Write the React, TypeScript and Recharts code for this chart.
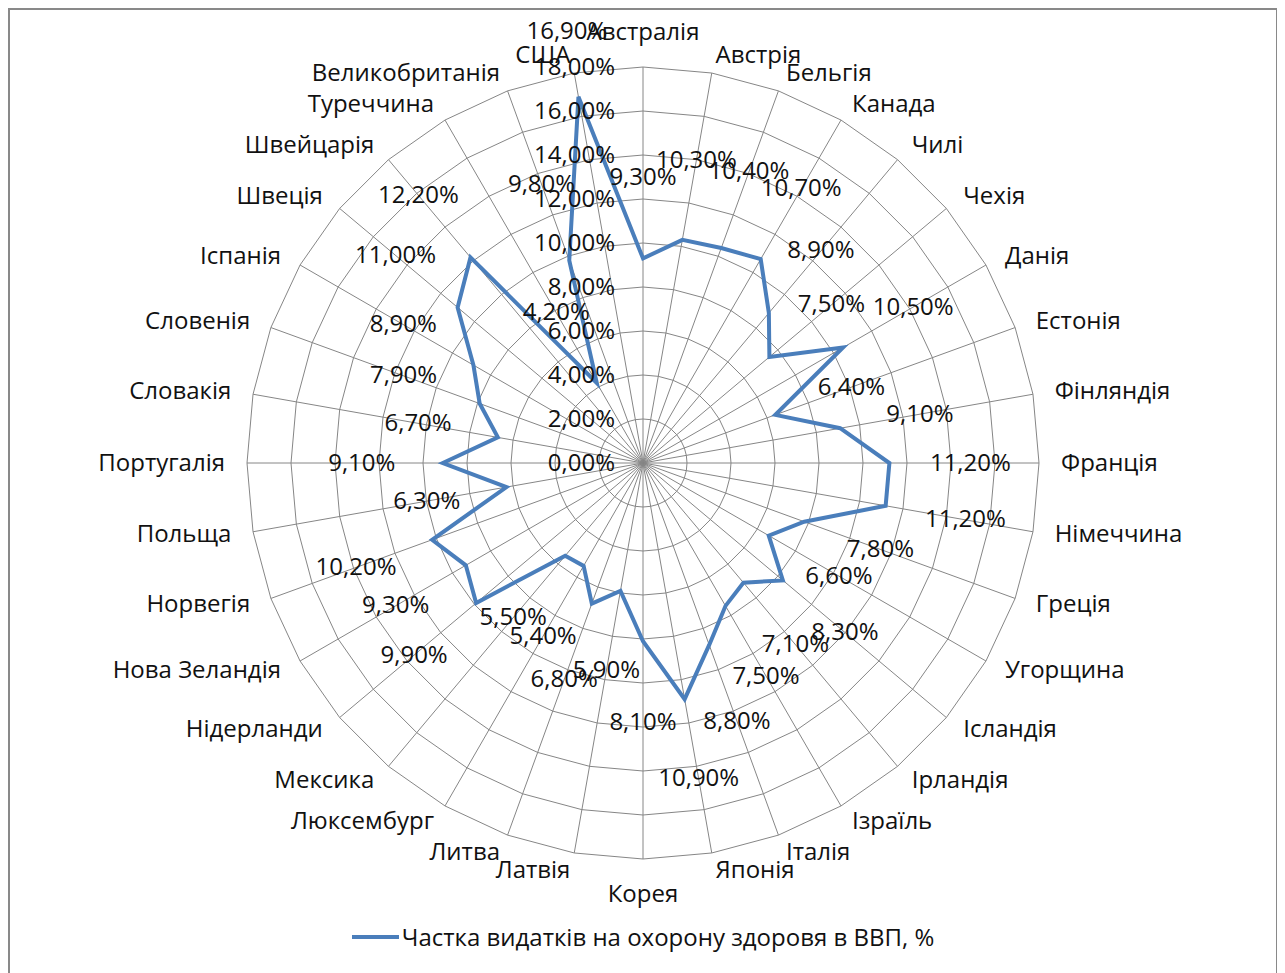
import React from 'react';
import {
  RadarChart,
  Radar,
  PolarGrid,
  PolarAngleAxis,
  PolarRadiusAxis,
  LabelList,
  Legend,
} from 'recharts';

// Countries, clockwise from the top
const countries = [
  'Австралія', 'Австрія', 'Бельгія', 'Канада', 'Чилі', 'Чехія', 'Данія', 'Естонія',
  'Фінляндія', 'Франція', 'Німеччина', 'Греція', 'Угорщина', 'Ісландія', 'Ірландія',
  'Ізраїль', 'Італія', 'Японія', 'Корея', 'Латвія', 'Литва', 'Люксембург', 'Мексика',
  'Нідерланди', 'Нова Зеландія', 'Норвегія', 'Польща', 'Португалія', 'Словакія',
  'Словенія', 'Іспанія', 'Швеція', 'Швейцарія', 'Туреччина', 'Великобританія', 'США',
];

// Health expenditure share of GDP, %
const healthShare = [
  9.3, 10.3, 10.4, 10.7, 8.9, 7.5, 10.5, 6.4, 9.1, 11.2, 11.2, 7.8, 6.6, 8.3, 7.1,
  7.5, 8.8, 10.9, 8.1, 5.9, 6.8, 5.4, 5.5, 9.9, 9.3, 10.2, 6.3, 9.1, 6.7, 7.9, 8.9,
  11.0, 12.2, 4.2, 9.8, 16.9,
];

const radiusTicks = [0, 2, 4, 6, 8, 10, 12, 14, 16, 18];

const seriesName = 'Частка видатків на охорону здоровя в ВВП, %';

const W = 1266;
const H = 965;
const CX = 633;
const CY = 453;
const R = 396;
const FONT = '"Open Sans", sans-serif';
const FS = 24;
const TEXT = '#111';
const LINE = '#4A7EBB';
const DY = -2; // small nudge so text sits like the original

const fmt = (v: number) => `${v.toFixed(2).replace('.', ',')}%`;

const chartData = countries.map((country, i) => ({
  country,
  value: healthShare[i],
}));

function CountryTick(props: any) {
  const { payload } = props;
  const cx = props.cx ?? CX;
  const cy = props.cy ?? CY;
  const a = (payload.coordinate * Math.PI) / 180;
  const cos = Math.cos(a);
  const sin = Math.sin(a);
  let x = cx + 418 * cos;
  let y = cy - 414 * sin;
  let anchor = 'middle';
  if (cos > 0.01) anchor = 'start';
  else if (cos < -0.01) anchor = 'end';
  else {
    x = cx;
    y = cy - 431 * Math.sign(sin);
  }
  return (
    <text
      x={x}
      y={y + DY}
      textAnchor={anchor}
      dominantBaseline="central"
      fill={TEXT}
      fontSize={FS}
      fontFamily={FONT}
    >
      {payload.value}
    </text>
  );
}

function RadiusTick(props: any) {
  const { x, y, payload } = props;
  return (
    <text
      x={x - 28}
      y={y + DY}
      textAnchor="end"
      dominantBaseline="central"
      fill={TEXT}
      fontSize={FS}
      fontFamily={FONT}
    >
      {fmt(Number(payload.value))}
    </text>
  );
}

function ValueLabel(props: any) {
  const vb = props.viewBox || {};
  const px = props.x ?? vb.x;
  const py = props.y ?? vb.y;
  const dx = px - CX;
  const dy = py - CY;
  const r = Math.hypot(dx, dy) || 1;
  // labels sit outward along the spoke, kept inside the plot
  const lr = Math.min(r + 81, 438);
  return (
    <text
      x={CX + (dx / r) * lr}
      y={CY + (dy / r) * lr + DY}
      textAnchor="middle"
      dominantBaseline="central"
      fill={TEXT}
      fontSize={FS}
      fontFamily={FONT}
    >
      {fmt(Number(props.value))}
    </text>
  );
}

function LegendContent(props: any) {
  const item = props.payload && props.payload[0];
  const label = item ? item.value : seriesName;
  return (
    <div
      style={{
        display: 'flex',
        justifyContent: 'center',
        alignItems: 'center',
        fontFamily: FONT,
        fontSize: FS,
        color: TEXT,
      }}
    >
      <svg width={47} height={10} style={{ marginRight: 3 }}>
        <line x1={0} y1={5} x2={47} y2={5} stroke={LINE} strokeWidth={4} />
      </svg>
      <span>{label}</span>
    </div>
  );
}

export default function App() {
  return (
    <div
      style={{
        width: 1270,
        height: 980,
        boxSizing: 'border-box',
        border: '2px solid #898989',
        background: '#fff',
        fontFamily: FONT,
      }}
    >
      <RadarChart
        width={W}
        height={H}
        data={chartData}
        cx={CX}
        cy={CY}
        outerRadius={R}
        margin={{ top: 0, right: 0, bottom: 0, left: 0 }}
      >
        <PolarGrid gridType="polygon" stroke="#868686" strokeWidth={1} />
        <PolarAngleAxis
          dataKey="country"
          tick={<CountryTick />}
          tickLine={false}
          axisLine={false}
        />
        <PolarRadiusAxis
          angle={90}
          domain={[0, 18]}
          ticks={radiusTicks}
          tickCount={10}
          axisLine={false}
          tickLine={false}
          tick={<RadiusTick />}
        />
        <Radar
          name={seriesName}
          dataKey="value"
          stroke={LINE}
          strokeWidth={4}
          fill="none"
          fillOpacity={0}
          dot={false}
          isAnimationActive={false}
        >
          <LabelList dataKey="value" content={<ValueLabel />} />
        </Radar>
        <Legend
          content={<LegendContent />}
          wrapperStyle={{ position: 'absolute', top: 910, left: 0, width: W }}
        />
      </RadarChart>
    </div>
  );
}
